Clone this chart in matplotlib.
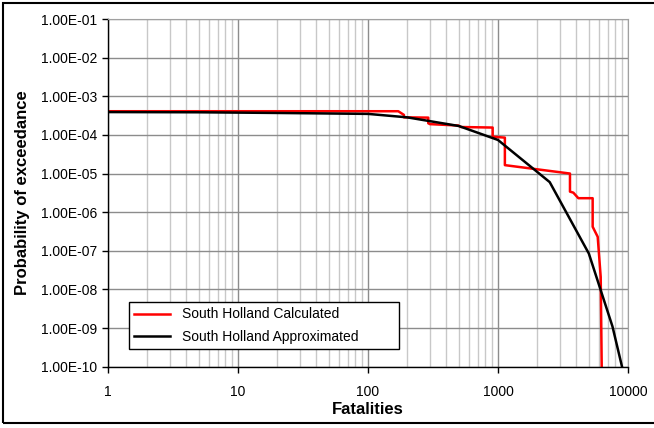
import matplotlib
matplotlib.use('Agg')
import matplotlib.pyplot as plt
from matplotlib.patches import Rectangle
from matplotlib.ticker import FuncFormatter, LogLocator, NullFormatter

plt.rcParams['font.family'] = ['Liberation Sans', 'DejaVu Sans']

# FN-curve: calculated staircase for South Holland
calc_fat = [1, 171, 189, 189, 291, 291, 300, 495, 520, 910, 910, 1130, 1130,
            3580, 3580, 3800, 4150, 5350, 5350, 5850, 6170, 6280]
calc_prob = [4.1e-4, 4.1e-4, 3.3e-4, 2.85e-4, 2.8e-4, 2.0e-4, 1.9e-4, 1.75e-4,
             1.6e-4, 1.55e-4, 9.0e-5, 8.5e-5, 1.65e-5, 1.0e-5, 3.4e-6, 3.2e-6,
             2.3e-6, 2.3e-6, 4.2e-7, 2.3e-7, 2.1e-8, 1e-10]

# fitted approximation
appr_fat = [1, 5, 20, 100, 200, 500, 1000, 2500, 5000, 7600, 9000]
appr_prob = [3.9e-4, 3.85e-4, 3.7e-4, 3.5e-4, 2.85e-4, 1.7e-4, 7.4e-5,
             6.0e-6, 8.5e-8, 1.1e-9, 1e-10]

labels = ['South Holland Calculated', 'South Holland Approximated']

fig = plt.figure(figsize=(6.54, 4.28), dpi=100)
ax = fig.add_axes([0.1651, 0.1432, 0.7951, 0.8124])

ax.plot(calc_fat, calc_prob, color='#ff0000', lw=1.8, label=labels[0])
ax.plot(appr_fat, appr_prob, color='black', lw=1.8, label=labels[1])

ax.set_xscale('log')
ax.set_yscale('log')
ax.set_xlim(1, 10000)
ax.set_ylim(1e-10, 1e-1)

ax.yaxis.set_major_locator(LogLocator(base=10, numticks=20))
ax.yaxis.set_minor_locator(LogLocator(base=10, subs=[], numticks=20))
ax.yaxis.set_major_formatter(FuncFormatter(lambda v, p: f"{v:.2E}"))
ax.xaxis.set_major_formatter(FuncFormatter(lambda v, p: f"{v:g}"))
ax.xaxis.set_minor_formatter(NullFormatter())

ax.grid(True, which='major', axis='both', color='#8c8c8c', lw=1.0)
ax.grid(True, which='minor', axis='x', color='#c8c8c8', lw=1.0)
ax.set_axisbelow(True)

ax.tick_params(which='major', direction='out', length=4, width=1,
               labelsize=10, colors='black')
ax.tick_params(which='minor', length=0)
ax.tick_params(axis='x', pad=9)

for side in ('top', 'right'):
    ax.spines[side].set_color('#a0a0a0')
for side in ('left', 'bottom'):
    ax.spines[side].set_color('black')
    ax.spines[side].set_linewidth(1.0)

ax.set_xlabel('Fatalities', fontsize=12, fontweight='bold', labelpad=2)
ax.set_ylabel('Probability of exceedance', fontsize=12, fontweight='bold',
              labelpad=8)

leg = ax.legend(loc='lower left', bbox_to_anchor=(0.04, 0.05, 0.52, 0.153),
                mode='expand', fontsize=10, fancybox=False, framealpha=1,
                edgecolor='black', handlelength=2.6, borderaxespad=0,
                labelspacing=0.6)
leg.get_frame().set_linewidth(1.0)

# outer chart border
fig.patches.append(Rectangle((0.004, 0.011), 1.0, 0.981, transform=fig.transFigure,
                             fill=False, edgecolor='black', lw=1.5))

fig.savefig('out.png', dpi=100)
